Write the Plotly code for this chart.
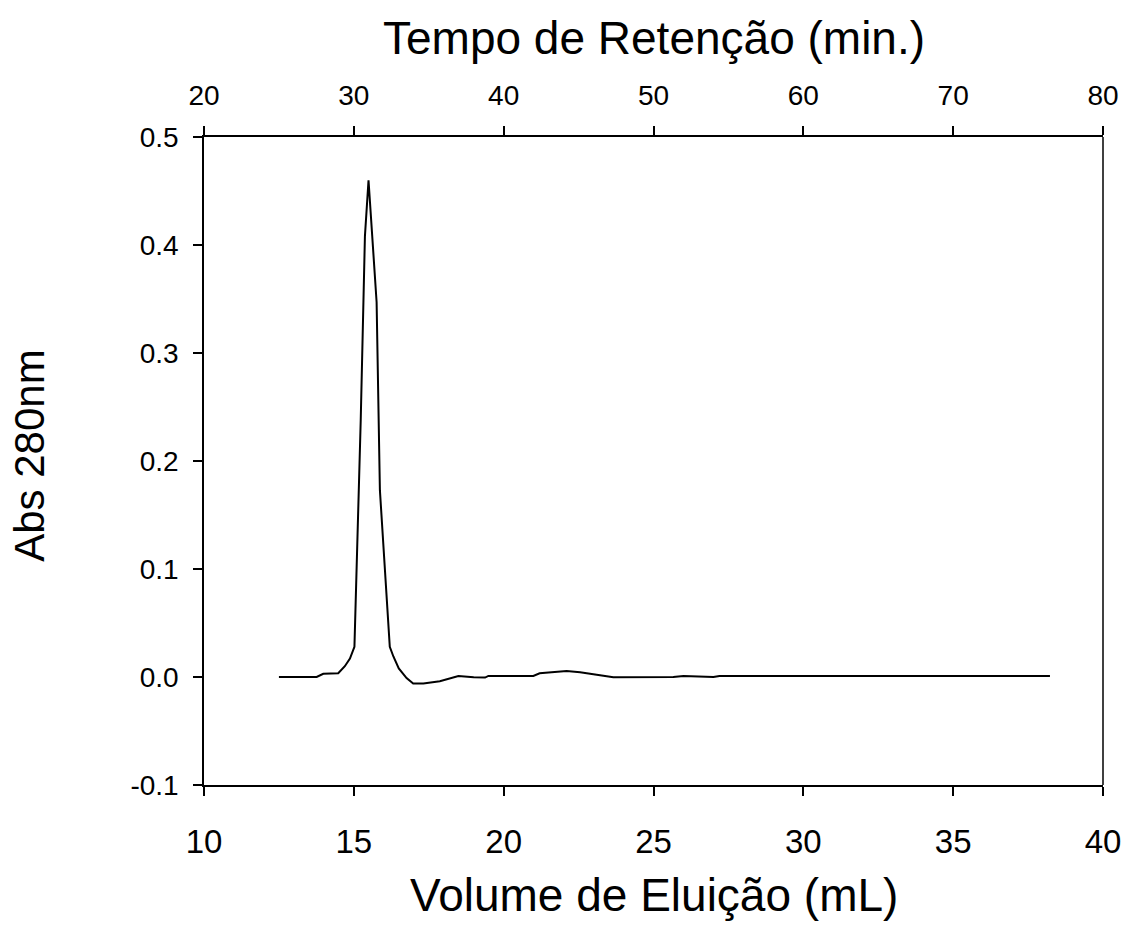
import plotly.graph_objects as go

volume_ml = [12.5, 13.76, 13.98, 14.48, 14.7, 14.87, 15.02, 15.23, 15.37, 15.49, 15.76, 15.87,
             16.2, 16.32, 16.5, 16.76, 16.98, 17.32, 17.87, 18.49, 19.0, 19.38, 19.49, 20.99,
             21.2, 22.1, 22.55, 23.66, 25.66, 26.0, 27.0, 27.2, 38.23]
abs_280 = [0.0, 0.0, 0.003, 0.0035, 0.01, 0.017, 0.028, 0.238, 0.408, 0.46, 0.347, 0.173,
           0.028, 0.019, 0.008, -0.001, -0.006, -0.006, -0.004, 0.001, -0.0003, -0.0005, 0.001, 0.001,
           0.0035, 0.0055, 0.0045, -0.0003, 0.0, 0.001, 0.0, 0.001, 0.001]
time_min = [2 * v for v in volume_ml]

bottom_ticks = [10, 15, 20, 25, 30, 35, 40]
top_ticks = [20, 30, 40, 50, 60, 70, 80]
y_ticks = [-0.1, 0.0, 0.1, 0.2, 0.3, 0.4, 0.5]
y_labels = ["-0.1", "0.0", "0.1", "0.2", "0.3", "0.4", "0.5"]

font = "Liberation Sans, Arial, sans-serif"

fig = go.Figure()
fig.add_trace(go.Scatter(x=volume_ml, y=abs_280, mode="lines",
                         line=dict(color="black", width=2), showlegend=False, hoverinfo="skip"))
fig.add_trace(go.Scatter(x=time_min, y=abs_280, mode="lines", xaxis="x2",
                         line=dict(color="rgba(0,0,0,0)", width=0), showlegend=False, hoverinfo="skip"))

def axis_common(size, standoff):
    return dict(showgrid=False, zeroline=False, showline=True, linecolor="black", linewidth=1.5,
                ticks="outside", ticklen=9, tickwidth=1.5, tickcolor="black", automargin=False,
                ticklabelstandoff=standoff,
                tickfont=dict(family=font, size=size, color="black"))

fig.update_layout(
    width=1127, height=927,
    margin=dict(l=204, r=24, t=137, b=142, autoexpand=False),
    paper_bgcolor="white", plot_bgcolor="white",
    xaxis=dict(range=[10, 40], tickvals=bottom_ticks, **axis_common(33, 18)),
    xaxis2=dict(range=[20, 80], tickvals=top_ticks, overlaying="x", side="top", anchor="y",
                **axis_common(28, 10)),
    yaxis=dict(range=[-0.1, 0.5], tickvals=y_ticks, ticktext=y_labels, **axis_common(28, 9)),
)
fig.add_shape(type="line", xref="paper", yref="paper", x0=1, x1=1, y0=0, y1=1,
              line=dict(color="black", width=1.5))

title_font = dict(family=font, size=46, color="black")
fig.add_annotation(text="Volume de Eluição (mL)", xref="paper", yref="paper", x=0.5, y=0,
                   yshift=-110, xanchor="center", yanchor="middle", showarrow=False, font=title_font)
fig.add_annotation(text="Tempo de Retenção (min.)", xref="paper", yref="paper", x=0.5, y=1,
                   yshift=99, xanchor="center", yanchor="middle", showarrow=False, font=title_font)
fig.add_annotation(text="Abs 280nm", xref="paper", yref="paper", x=0, y=0.508,
                   xshift=-174, textangle=-90, xanchor="center", yanchor="middle", showarrow=False,
                   font=dict(family=font, size=42, color="black"))

fig.write_html("out.html")
